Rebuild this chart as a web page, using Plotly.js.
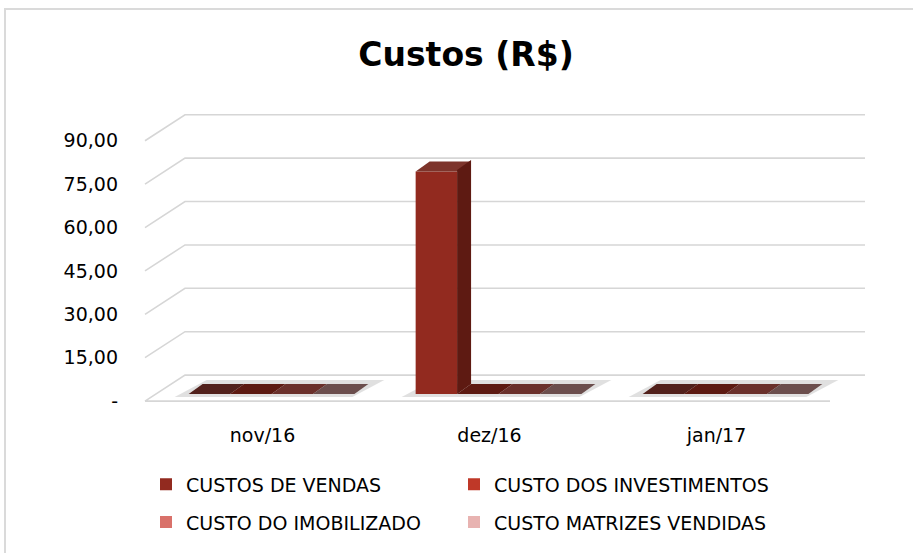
<!DOCTYPE html>
<html>
<head>
<meta charset="utf-8">
<script src="https://cdn.plot.ly/plotly-3.0.1.min.js"></script>
<style>
  body { margin: 0; background: #fff; }
  #chart { width: 913px; height: 553px; }
  #frame { position: absolute; left: 4px; top: 8px; width: 2000px; height: 2000px;
           border-left: 2px solid #dadada; border-top: 2px solid #dadada; pointer-events: none; }
</style>
</head>
<body>
<div id="chart"></div>
<div id="frame"></div>
<script>
// dados
var categories = ["nov/16", "dez/16", "jan/17"];
var custosVendas = [0, 77, 0];
var custoInvestimentos = [0, 0, 0];
var custoImobilizado = [0, 0, 0];
var custoMatrizes = [0, 0, 0];
var seriesNames = ["CUSTOS DE VENDAS", "CUSTO DOS INVESTIMENTOS", "CUSTO DO IMOBILIZADO", "CUSTO MATRIZES VENDIDAS"];
var yTickVals = [0, 15, 30, 45, 60, 75, 90];
var yTickText = ["-", "15,00", "30,00", "45,00", "60,00", "75,00", "90,00"];

var seriesColors = ["#922a1f", "#bf3828", "#d9716a", "#e8b3b1"];
var topColors = ["#52211c", "#5d1a12", "#6a302b", "#6b4e4d"];
var allSeries = [custosVendas, custoInvestimentos, custoImobilizado, custoMatrizes];

var W = 913, H = 553;
var y0px = 396, y90px = 134;      // posicao do 0 e do 90 na tela
var mL = 158, mR = 74, mT = 100, mB = 145;
var plotW = W - mL - mR;
var plotH = H - mT - mB;
var pxPerUnit = (y0px - y90px) / 90;
var yTop = 90 + (y90px - mT) / pxPerUnit;
var yBottom = -((H - mB) - y0px) / pxPerUnit;
var bargap = 0.27;
var barW = (1 - bargap) / allSeries.length;
var barPx = barW * plotW / categories.length;
var dx = 14, dy = 10; // profundidade 3D

// legenda em 2x2: uma legenda por item
var legendIds = ["legend", "legend2", "legend3", "legend4"];
var legendPos = [[146, 487], [454, 487], [146, 525], [454, 525]];

var traces = allSeries.map(function (vals, s) {
  return {
    type: "bar",
    x: categories,
    y: vals,
    name: seriesNames[s],
    marker: { color: seriesColors[s] },
    legend: legendIds[s],
    hoverinfo: "skip"
  };
});

var shapes = [];

// linhas de grade em perspectiva
yTickVals.forEach(function (v) {
  var p = "M -13,-7 L 27,19 L 707,19";
  if (v === 0) p += " M -13,-7 L 672,-7";
  shapes.push({
    type: "path", layer: "below",
    xref: "paper", yref: "y", xsizemode: "pixel", ysizemode: "pixel",
    xanchor: 0, yanchor: v, path: p,
    line: { color: "#d6d6d6", width: 1.6 }
  });
});

// sombra de cada grupo
categories.forEach(function (c, ci) {
  var left = ci - (1 - bargap) / 2;
  var gw = barPx * allSeries.length;
  shapes.push({
    type: "path", layer: "below",
    xref: "x", yref: "y", xsizemode: "pixel", ysizemode: "pixel",
    xanchor: left, yanchor: 0,
    path: "M -14,-3 L " + (dx + 4) + "," + (dy + 4) + " L " + (gw + dx + 16) + "," + (dy + 4) +
          " L " + (gw - 2) + ",-3 Z",
    fillcolor: "rgba(0,0,0,0.12)", line: { width: 0 }
  });
});

// faces de topo e lateral das barras
allSeries.forEach(function (vals, s) {
  vals.forEach(function (v, ci) {
    var left = ci - (1 - bargap) / 2 + s * barW;
    shapes.push({
      type: "path",
      xref: "x", yref: "y", xsizemode: "pixel", ysizemode: "pixel",
      xanchor: left, yanchor: v,
      path: "M 0,0 L " + dx + "," + dy + " L " + (barPx + dx) + "," + dy + " L " + barPx + ",0 Z",
      fillcolor: v > 0 ? "#7d342b" : topColors[s], line: { width: 0 }
    });
    if (v > 0) {
      var h = v * pxPerUnit;
      shapes.push({
        type: "path",
        xref: "x", yref: "y", xsizemode: "pixel", ysizemode: "pixel",
        xanchor: left, yanchor: 0,
        path: "M " + barPx + ",0 L " + (barPx + dx) + "," + dy + " L " + (barPx + dx) + "," + (h + dy) +
              " L " + barPx + "," + h + " Z",
        fillcolor: "#5e1a12", line: { width: 0 }
      });
    }
  });
});

var layout = {
  width: W, height: H,
  margin: { l: mL, r: mR, t: mT, b: mB },
  paper_bgcolor: "#fff", plot_bgcolor: "rgba(0,0,0,0)",
  font: { family: "DejaVu Sans", size: 19, color: "#000" },
  title: {
    text: "<b>Custos (R$)</b>",
    font: { family: "DejaVu Sans", size: 33, color: "#000" },
    xref: "container", x: 466 / W, xanchor: "center",
    yref: "container", y: 1 - 54 / H, yanchor: "middle"
  },
  barmode: "group",
  bargap: bargap, bargroupgap: 0,
  xaxis: {
    type: "category",
    showgrid: false, zeroline: false, showline: false,
    ticks: "", ticklabelstandoff: 16, ticklabelshift: -9,
    tickfont: { family: "DejaVu Sans", size: 19, color: "#000" }
  },
  yaxis: {
    range: [yBottom, yTop],
    showgrid: false, zeroline: false, showline: false,
    tickvals: yTickVals, ticktext: yTickText,
    ticks: "", ticklabelstandoff: 39, ticklabelshift: 7,
    tickfont: { family: "DejaVu Sans", size: 19, color: "#000" }
  },
  showlegend: true,
  shapes: shapes
};

legendIds.forEach(function (id, i) {
  layout[id] = {
    orientation: "h",
    xanchor: "left", yanchor: "middle",
    x: (legendPos[i][0] - mL) / plotW,
    y: (H - mB - legendPos[i][1]) / plotH,
    itemwidth: 30,
    font: { family: "DejaVu Sans", size: 19, color: "#000" },
    bgcolor: "rgba(0,0,0,0)"
  };
});

Plotly.newPlot("chart", traces, layout, { displayModeBar: false, staticPlot: true });
</script>
</body>
</html>
